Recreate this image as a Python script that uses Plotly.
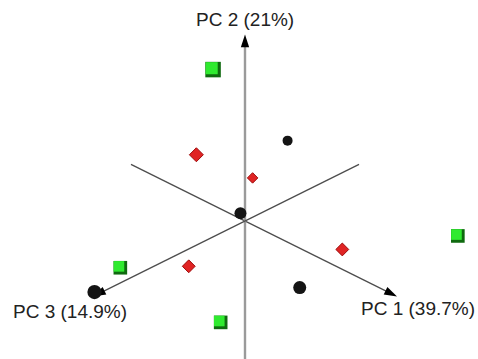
import numpy as np
import plotly.graph_objects as go

# ---- data (PCA scores) ----
green_pc1 = [0.14, 0.91, -0.15, 0.27]
green_pc2 = [1.01, 0.09, -0.04, -0.26]
green_pc3 = [0.35, -0.49, 0.67, 0.43]

red_pc1 = [0.13, -0.26, 0.57, 0.09]
red_pc2 = [0.59, 0.00, 0.05, -0.02]
red_pc3 = [0.45, -0.31, -0.07, 0.46]

black_pc1 = [-0.33, -0.03, 0.00, 0.46]
black_pc2 = [0.05, 0.03, 0.02, -0.13]
black_pc3 = [-0.61, 0.00, 0.99, 0.10]

axis_names = ["PC 1", "PC 2", "PC 3"]
explained_var = ["39.7", "21", "14.9"]
axis_min = -0.75
axis_max = 1.0

# ---- view (orthographic camera) ----
ELEV = np.radians(29.8)
AZIM = np.radians(45.0)
PX = 215.0            # pixels per data unit
W, H = 478, 359
OX, OY = 245.0, 221.0  # pixel position of origin


def project(p1, p2, p3):
    p1, p2, p3 = (np.asarray(v, dtype=float) for v in (p1, p2, p3))
    sx = np.cos(AZIM) * p1 - np.sin(AZIM) * p3
    sy = np.cos(ELEV) * p2 - np.sin(ELEV) * (np.sin(AZIM) * p1 + np.cos(AZIM) * p3)
    depth = np.cos(ELEV) * (np.sin(AZIM) * p1 + np.cos(AZIM) * p3) + np.sin(ELEV) * p2
    return sx, sy, depth


def persp(base, depth):
    return base * (1 + 0.3 * depth)


fig = go.Figure()

# ---- axes ----
axis_styles = [
    dict(color="#4d4d4d", width=1.3),
    dict(color="#9a9a9a", width=2.4),
    dict(color="#4d4d4d", width=1.3),
]
tips = []
for i in range(3):
    a = [0, 0, 0]
    b = [0, 0, 0]
    a[i] = axis_min
    b[i] = axis_max
    sx, sy, _ = project([a[0], b[0]], [a[1], b[1]], [a[2], b[2]])
    tips.append((sx[1], sy[1]))
    fig.add_trace(go.Scatter(
        x=sx, y=sy, mode="lines+markers",
        line=axis_styles[i],
        marker=dict(symbol="arrow", angleref="previous", size=[0, 13.5],
                    color="#000000", opacity=1, line=dict(width=0)),
        hoverinfo="skip", showlegend=False,
    ))

# ---- green cubes ----
gx, gy, gd = project(green_pc1, green_pc2, green_pc3)
gs = persp(12.5, gd)
fig.add_trace(go.Scatter(
    x=gx, y=gy, mode="markers",
    marker=dict(symbol="square", size=gs, color="#0f6a0f", opacity=1, line=dict(width=0)),
    hoverinfo="skip", showlegend=False,
))
off = 1.4 / PX
fig.add_trace(go.Scatter(
    x=gx - off, y=gy + off, mode="markers",
    marker=dict(symbol="square", size=gs * 0.78, color="#2fea2f", opacity=1, line=dict(width=0)),
    hoverinfo="skip", showlegend=False,
))

# ---- red diamonds ----
rx, ry, rd = project(red_pc1, red_pc2, red_pc3)
fig.add_trace(go.Scatter(
    x=rx, y=ry, mode="markers",
    marker=dict(symbol="diamond", size=persp(9.0, rd), color="#e02424", opacity=1,
                line=dict(width=1, color="#9e0c0c")),
    hoverinfo="skip", showlegend=False,
))

# ---- black spheres ----
bx, by, bd = project(black_pc1, black_pc2, black_pc3)
fig.add_trace(go.Scatter(
    x=bx, y=by, mode="markers",
    marker=dict(symbol="circle", size=persp(12.0, bd), color="#141414", opacity=1,
                line=dict(width=0)),
    hoverinfo="skip", showlegend=False,
))

# ---- axis labels ----
label_shift = [(21, -12), (0, 15), (-23, -15)]
for i in range(3):
    fig.add_annotation(
        x=tips[i][0], y=tips[i][1],
        text=f"{axis_names[i]} ({explained_var[i]}%)",
        showarrow=False, xanchor="center", yanchor="middle",
        xshift=label_shift[i][0], yshift=label_shift[i][1],
        font=dict(family="Liberation Sans, Arial, sans-serif", size=19, color="#222222"),
    )

fig.update_layout(
    width=W, height=H,
    margin=dict(l=0, r=0, t=0, b=0),
    paper_bgcolor="white", plot_bgcolor="white",
    xaxis=dict(range=[-OX / PX, (W - OX) / PX], visible=False, fixedrange=True),
    yaxis=dict(range=[-(H - OY) / PX, OY / PX], visible=False, fixedrange=True),
    showlegend=False,
)

fig.write_html(
    "out.html",
    config={"displayModeBar": False},
    post_script="document.body.style.margin='0';document.body.style.overflow='hidden';",
)
